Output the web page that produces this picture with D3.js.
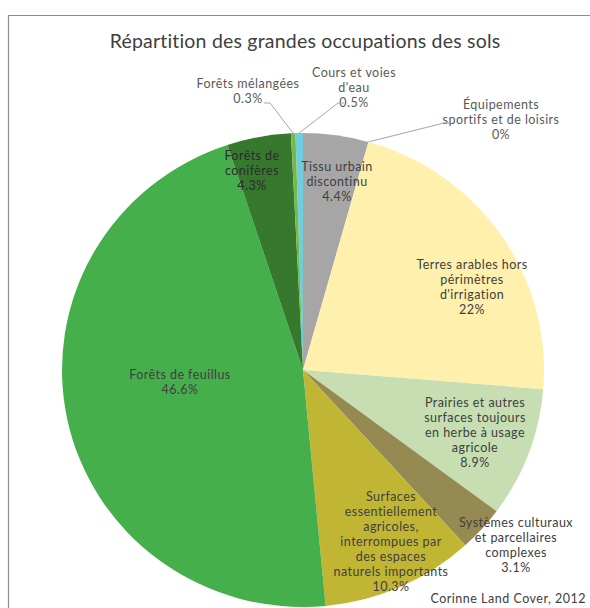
<!DOCTYPE html>
<html>
<head>
<meta charset="utf-8">
<script src="https://cdn.jsdelivr.net/npm/d3@7"></script>
<style>
  html, body { margin: 0; padding: 0; background: #fff; }
  svg { display: block; }
  text { font-family: "Lato", "DejaVu Sans", sans-serif; }
</style>
</head>
<body>
<svg id="chart" width="590" height="608"></svg>
<script>
// Land-cover categories, clockwise from the top
const categories = [
  "Cours et voies d'eau",
  "Tissu urbain discontinu",
  "Équipements sportifs et de loisirs",
  "Terres arables hors périmètres d'irrigation",
  "Prairies et autres surfaces toujours en herbe à usage agricole",
  "Systèmes culturaux et parcellaires complexes",
  "Surfaces essentiellement agricoles, interrompues par des espaces naturels importants",
  "Forêts de feuillus",
  "Forêts de conifères",
  "Forêts mélangées"
];
const values = [0.5, 4.4, 0, 22, 8.9, 3.1, 10.3, 46.6, 4.3, 0.3];
const valueLabels = ["0.5%", "4.4%", "0%", "22%", "8.9%", "3.1%", "10.3%", "46.6%", "4.3%", "0.3%"];
// Wrapped label lines for each slice
const labelLines = [
  ["Cours et voies", "d'eau"],
  ["Tissu urbain", "discontinu"],
  ["Équipements", "sportifs et de loisirs"],
  ["Terres arables hors", "périmètres", "d'irrigation"],
  ["Prairies et autres", "surfaces toujours", "en herbe à usage", "agricole"],
  ["Systèmes culturaux", "et parcellaires", "complexes"],
  ["Surfaces", "essentiellement", "agricoles,", "interrompues par", "des espaces", "naturels importants"],
  ["Forêts de feuillus"],
  ["Forêts de", "conifères"],
  ["Forêts mélangées"]
];
const colors = ["#6fcde0", "#a6a6a6", "#8fb8d8", "#fff1ad", "#c6deb1", "#958a52", "#c0b634", "#45af4b", "#37782f", "#76b947"];

const svg = d3.select("#chart");
const W = 590, H = 608;

// chart frame
svg.append("path")
  .attr("d", `M8.5,${H} V15.5 H${W}`)
  .attr("fill", "none")
  .attr("stroke", "#8c8c8c")
  .attr("stroke-width", 1.2);

svg.append("text")
  .attr("x", 305).attr("y", 48)
  .attr("text-anchor", "middle")
  .attr("font-size", 19.5)
  .attr("letter-spacing", 0.2)
  .attr("fill", "#404040")
  .text("Répartition des grandes occupations des sols");

const cx = 303, cy = 370, R = 241, sy = 237 / 241;
const rot = -1.8 * Math.PI / 180; // first slice begins just left of 12 o'clock

const pie = d3.pie().sort(null).value(d => d)
  .startAngle(rot).endAngle(2 * Math.PI + rot);
const arcs = pie(values);
const arc = d3.arc().innerRadius(0).outerRadius(R);

const g = svg.append("g").attr("transform", `translate(${cx},${cy}) scale(1,${sy})`);
g.selectAll("path.slice")
  .data(arcs)
  .join("path")
  .attr("class", "slice")
  .attr("d", arc)
  .attr("fill", (d, i) => colors[i]);

// point at angle a / radius r on the (slightly squashed) pie
function pt(a, r) {
  return [cx + r * Math.sin(a), cy - r * Math.cos(a) * sy];
}

// label placement: center x, first line y, fill, leader start points
const LH = 15;
const labelPos = [
  { x: 354, y: 77, fill: "#595959", leader: [[344, 103], [338, 103]] },
  { x: 337, y: 171, fill: "#404040" },
  { x: 501, y: 109, fill: "#595959", leader: [[450, 123], [444, 123]] },
  { x: 472, y: 269, fill: "#404040" },
  { x: 475, y: 407, fill: "#404040" },
  { x: 516, y: 527, fill: "#404040" },
  { x: 391, y: 501, fill: "#404040" },
  { x: 180, y: 379, fill: "#404040" },
  { x: 252, y: 160, fill: "#2b2b2b" },
  { x: 248, y: 88, fill: "#595959", leader: [[264, 103], [270, 103]] }
];

const labels = svg.append("g").attr("font-size", 12.5).attr("letter-spacing", 0.45);
arcs.forEach((d, i) => {
  const p = labelPos[i];
  const lines = labelLines[i].concat([valueLabels[i]]);
  const t = labels.append("text")
    .attr("text-anchor", "middle")
    .attr("fill", p.fill);
  lines.forEach((ln, k) => {
    t.append("tspan").attr("x", p.x).attr("y", p.y + k * LH).text(ln);
  });
  if (p.leader) {
    const mid = (d.startAngle + d.endAngle) / 2;
    const pts = [p.leader[0], p.leader[1], pt(mid, R)];
    labels.append("path")
      .attr("d", d3.line()(pts))
      .attr("fill", "none")
      .attr("stroke", "#a6a6a6")
      .attr("stroke-width", 1);
  }
});

svg.append("text")
  .attr("x", 586).attr("y", 603)
  .attr("text-anchor", "end")
  .attr("font-size", 12.5)
  .attr("letter-spacing", 0.5)
  .attr("fill", "#404040")
  .text("Corinne Land Cover, 2012");
</script>
</body>
</html>
